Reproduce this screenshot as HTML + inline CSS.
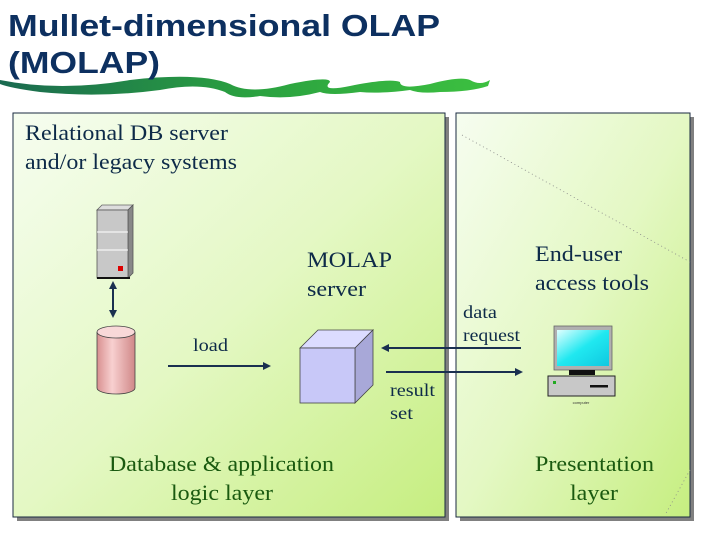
<!DOCTYPE html>
<html><head><meta charset="utf-8"><style>
html,body{margin:0;padding:0;background:#fff;width:720px;height:540px;overflow:hidden}
</style></head><body>
<svg width="720" height="540" viewBox="0 0 720 540" xmlns="http://www.w3.org/2000/svg">
<defs>
<linearGradient id="g" x1="0" y1="0" x2="1" y2="1">
<stop offset="0" stop-color="#f6fdf0"/><stop offset="0.5" stop-color="#e4f8c4"/><stop offset="1" stop-color="#c6ee80"/>
</linearGradient>
<linearGradient id="sw" x1="0" y1="0" x2="1" y2="0">
<stop offset="0" stop-color="#1a6a50"/><stop offset="0.5" stop-color="#2aa040"/><stop offset="1" stop-color="#3cc040"/>
</linearGradient>
<linearGradient id="cyl" x1="0" y1="0" x2="1" y2="0">
<stop offset="0" stop-color="#d89090"/><stop offset="0.4" stop-color="#f8d0d0"/><stop offset="1" stop-color="#d08888"/>
</linearGradient>
<linearGradient id="scr" x1="0" y1="0" x2="1" y2="1">
<stop offset="0" stop-color="#e0ffff"/><stop offset="0.5" stop-color="#20e8f0"/><stop offset="1" stop-color="#10c8e0"/>
</linearGradient>
</defs>
<path d="M0 80 Q60 92 130 80 Q200 72 230 84 Q250 95 290 84 Q330 76 330 82 Q320 92 350 86 Q390 78 400 82 Q400 90 430 84 Q460 76 470 80 Q480 86 490 80 L488 86 Q470 92 440 92 Q420 94 410 90 Q380 94 360 92 Q330 96 320 92 Q290 100 260 96 Q235 100 225 92 Q200 82 160 90 Q100 98 40 92 Q10 88 0 84Z" fill="url(#sw)"/>
<text x="8" y="36" font-family="Liberation Sans, sans-serif" font-weight="bold" font-size="31" fill="#0d3060" textLength="432" lengthAdjust="spacingAndGlyphs">Mullet-dimensional OLAP</text>
<text x="8" y="73" font-family="Liberation Sans, sans-serif" font-weight="bold" font-size="31" fill="#0d3060" textLength="152" lengthAdjust="spacingAndGlyphs">(MOLAP)</text>
<rect x="17" y="117" width="432" height="404" fill="#808080"/>
<rect x="13" y="113" width="432" height="404" fill="url(#g)" stroke="#1a2a40" stroke-width="1"/>
<rect x="460" y="117" width="234" height="404" fill="#808080"/>
<rect x="456" y="113" width="234" height="404" fill="url(#g)" stroke="#1a2a40" stroke-width="1"/>
<line x1="462" y1="135" x2="690" y2="262" stroke="#888" stroke-width="0.8" stroke-dasharray="1,3"/>
<line x1="690" y1="470" x2="665" y2="515" stroke="#888" stroke-width="0.8" stroke-dasharray="1,3"/>
<g font-family="Liberation Serif, serif" font-size="22" fill="#0d2a48">
<text x="25" y="140" textLength="203" lengthAdjust="spacingAndGlyphs">Relational DB server</text>
<text x="25" y="169" textLength="212" lengthAdjust="spacingAndGlyphs">and/or legacy systems</text>
<text x="307" y="267" textLength="85" lengthAdjust="spacingAndGlyphs">MOLAP</text>
<text x="307" y="296" textLength="59" lengthAdjust="spacingAndGlyphs">server</text>
<text x="535" y="261" textLength="87" lengthAdjust="spacingAndGlyphs">End-user</text>
<text x="535" y="290" textLength="114" lengthAdjust="spacingAndGlyphs">access tools</text>
</g>
<g font-family="Liberation Serif, serif" font-size="18" fill="#0d2a48">
<text x="193" y="351" textLength="35" lengthAdjust="spacingAndGlyphs">load</text>
<text x="463" y="318" textLength="34" lengthAdjust="spacingAndGlyphs">data</text>
<text x="463" y="341" textLength="57" lengthAdjust="spacingAndGlyphs">request</text>
<text x="390" y="396" textLength="45" lengthAdjust="spacingAndGlyphs">result</text>
<text x="390" y="419" textLength="23" lengthAdjust="spacingAndGlyphs">set</text>
</g>
<g font-family="Liberation Serif, serif" font-size="22" fill="#1a5a10">
<text x="109" y="471" textLength="225" lengthAdjust="spacingAndGlyphs">Database &amp; application</text>
<text x="171" y="500" textLength="102" lengthAdjust="spacingAndGlyphs">logic layer</text>
<text x="535" y="471" textLength="119" lengthAdjust="spacingAndGlyphs">Presentation</text>
<text x="570" y="500" textLength="48" lengthAdjust="spacingAndGlyphs">layer</text>
</g>
<polygon points="97,210 128,210 133,205 102,205" fill="#ddd" stroke="#666" stroke-width="0.8"/>
<polygon points="128,210 133,205 133,273 128,278" fill="#888" stroke="#555" stroke-width="0.8"/>
<rect x="97" y="210" width="31" height="68" fill="#c8c8c8" stroke="#555" stroke-width="0.8"/>
<line x1="97" y1="232" x2="128" y2="232" stroke="#fff"/>
<line x1="97" y1="250" x2="128" y2="250" stroke="#fff"/>
<rect x="118" y="266" width="5" height="5" fill="#d00"/>
<line x1="97" y1="278" x2="130" y2="278" stroke="#111" stroke-width="2"/>
<line x1="113" y1="286" x2="113" y2="314" stroke="#1a3050" stroke-width="2"/>
<polygon points="113,281 109,289 117,289" fill="#1a3050"/>
<polygon points="113,318 109,310 117,310" fill="#1a3050"/>
<path d="M97 332 L97 388 A19 6 0 0 0 135 388 L135 332" fill="url(#cyl)" stroke="#444" stroke-width="0.8"/>
<ellipse cx="116" cy="332" rx="19" ry="6" fill="#f8d8d8" stroke="#444" stroke-width="0.8"/>
<line x1="168" y1="366" x2="266" y2="366" stroke="#1a3050" stroke-width="2"/>
<polygon points="271,366 263,362 263,370" fill="#1a3050"/>
<polygon points="300,348 318,330 373,330 355,348" fill="#dcdcff" stroke="#444" stroke-width="0.8"/>
<polygon points="355,348 373,330 373,385 355,403" fill="#a8a8d8" stroke="#444" stroke-width="0.8"/>
<rect x="300" y="348" width="55" height="55" fill="#c8c8f8" stroke="#444" stroke-width="0.8"/>
<line x1="386" y1="348" x2="521" y2="348" stroke="#1a3050" stroke-width="2"/>
<polygon points="381,348 389,344 389,352" fill="#1a3050"/>
<line x1="386" y1="372" x2="518" y2="372" stroke="#1a3050" stroke-width="2"/>
<polygon points="523,372 515,368 515,376" fill="#1a3050"/>
<rect x="554" y="326" width="58" height="44" fill="#b0b0b0" stroke="#666" stroke-width="0.8"/>
<rect x="557" y="330" width="52" height="36" fill="url(#scr)"/>
<rect x="569" y="370" width="26" height="5" fill="#111"/>
<rect x="548" y="376" width="67" height="20" fill="#c8c8c8" stroke="#222" stroke-width="1"/>
<rect x="553" y="381" width="3" height="3" fill="#2a2"/>
<rect x="590" y="385" width="18" height="2.5" fill="#111"/>
<text x="581" y="404" font-family="Liberation Sans, sans-serif" font-size="4" fill="#333" text-anchor="middle">computer</text>
</svg>
</body></html>
